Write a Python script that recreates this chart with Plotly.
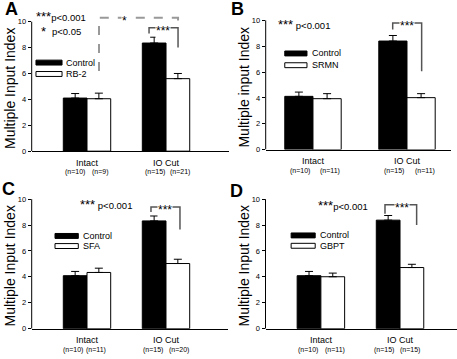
import plotly.graph_objects as go

# ---------------- data ----------------
categories = ["Intact", "IO Cut"]
treatments = ["RB-2", "SRMN", "SFA", "GBPT"]
panel_letters = ["A", "B", "C", "D"]

control_A = [4.10, 8.35]
control_A_err = [0.35, 0.45]
rb2 = [4.05, 5.60]
rb2_err = [0.43, 0.40]

control_B = [4.12, 8.40]
control_B_err = [0.33, 0.43]
srmn = [3.94, 4.02]
srmn_err = [0.39, 0.31]

control_C = [4.09, 8.32]
control_C_err = [0.33, 0.38]
sfa = [4.34, 5.03]
sfa_err = [0.33, 0.33]

control_D = [4.09, 8.38]
control_D_err = [0.33, 0.36]
gbpt = [4.01, 4.72]
gbpt_err = [0.28, 0.25]

n_A = ["(n=10)", "(n=9)", "(n=15)", "(n=21)"]
n_B = ["(n=10)", "(n=11)", "(n=15)", "(n=11)"]
n_C = ["(n=10)", "(n=11)", "(n=15)", "(n=20)"]
n_D = ["(n=10)", "(n=11)", "(n=15)", "(n=15)"]

ytitles = ["Multiple Input Index", "Multiple input Index", "Multiple Input Index", "Multiple Input Index"]
ytick_vals = [0, 2, 4, 6, 8, 10]

FONT = "Arial, Liberation Sans, sans-serif"
W, H = 457, 359
STARS = '<span style="font-size:13px">***</span>'

# ---------------- layout helpers ----------------
def px_x(p):
    return p / W

def px_y(p):
    return 1 - p / H

panels = [
    dict(ctrl=control_A, ce=control_A_err, trt=rb2, te=rb2_err, n=n_A, label="RB-2",
         xd=[px_x(31.7), px_x(229)], yd=[px_y(153.3), px_y(14.1)], xr=[-0.70, 1.797],
         letter_pos=(11, 9), ytitle_x=10,
         leg=(-0.646, -0.316, 6.84, 5.96), pv=[(-0.67, 10.37, STARS + "p<0.001")],
         pv2=True,
         brackets=[dict(pts=[(0.152, 6.19), (0.152, 10.3), (1.152, 10.3), (1.152, 9.77)], dash=True, star="*", sx=0.47),
                   dict(pts=[(0.785, 9.08), (0.785, 9.54), (1.152, 9.54), (1.152, 8.0)], dash=False, star="***", sx=0.96)],
         npos=[-0.15, 0.165, 0.86, 1.18]),
    dict(ctrl=control_B, ce=control_B_err, trt=srmn, te=srmn_err, n=n_B, label="SRMN",
         xd=[px_x(265.7), px_x(450.7)], yd=[px_y(151.7), px_y(12.8)], xr=[-0.503, 1.465],
         letter_pos=(237, 9), ytitle_x=244,
         leg=(-0.30, -0.064, 7.44, 6.53), pv=[(-0.39, 9.67, STARS + " p<0.001")],
         pv2=False,
         brackets=[dict(pts=[(0.848, 9.29), (0.848, 9.8), (1.156, 9.8), (1.156, 6.06)], dash=False, star="***", sx=0.997)],
         npos=[-0.14, 0.18, 0.86, 1.19]),
    dict(ctrl=control_C, ce=control_C_err, trt=sfa, te=sfa_err, n=n_C, label="SFA",
         xd=[px_x(31.7), px_x(228)], yd=[px_y(333.3), px_y(194.1)], xr=[-0.70, 1.785],
         letter_pos=(8, 192), ytitle_x=10,
         leg=(-0.405, -0.11, 7.16, 6.38), pv=[(-0.11, 9.6, STARS + " p<0.001")],
         pv2=False,
         brackets=[dict(pts=[(0.81, 9.01), (0.81, 9.39), (1.177, 9.39), (1.177, 7.66)], dash=False, star="***", sx=0.987)],
         npos=[-0.18, 0.12, 0.84, 1.16]),
    dict(ctrl=control_D, ce=control_D_err, trt=gbpt, te=gbpt_err, n=n_D, label="GBPT",
         xd=[px_x(265.5), 1.0], yd=[px_y(333.3), px_y(194.1)], xr=[-0.70, 1.72],
         letter_pos=(236, 194), ytitle_x=244,
         leg=(-0.376, -0.072, 7.2, 6.4), pv=[(-0.06, 9.54, STARS + "p<0.001")],
         pv2=False,
         brackets=[dict(pts=[(0.81, 8.88), (0.81, 9.57), (1.21, 9.57), (1.21, 8.0)], dash=False, star="***", sx=1.02)],
         npos=[-0.16, 0.18, 0.80, 1.13]),
]

fig = go.Figure()
shapes = []
annotations = []
BW = 0.30
xpos = [0, 1]

for i, p in enumerate(panels):
    k = "" if i == 0 else str(i + 1)
    xa, ya = "x" + k, "y" + k
    fig.add_trace(go.Bar(
        x=xpos, y=p["ctrl"], width=BW, offset=-BW, xaxis=xa, yaxis=ya,
        marker=dict(color="black", line=dict(color="black", width=1)),
        error_y=dict(type="data", array=p["ce"], arrayminus=[0, 0], symmetric=False,
                     color="black", thickness=1, width=4),
        showlegend=False, name="Control"))
    fig.add_trace(go.Bar(
        x=xpos, y=p["trt"], width=BW, offset=0, xaxis=xa, yaxis=ya,
        marker=dict(color="white", line=dict(color="black", width=1)),
        error_y=dict(type="data", array=p["te"], arrayminus=[0, 0], symmetric=False,
                     color="black", thickness=1, width=4),
        showlegend=False, name=p["label"]))

    fig.layout["xaxis" + k] = dict(
        domain=p["xd"], range=p["xr"], anchor=ya, tickvals=xpos, ticktext=categories,
        showline=True, linecolor="black", linewidth=1, ticks="", showgrid=False,
        ticklabelstandoff=3,
        zeroline=False, tickfont=dict(size=9, family=FONT, color="black"), fixedrange=True)
    fig.layout["yaxis" + k] = dict(
        domain=p["yd"], range=[0, 10.6], anchor=xa, tickvals=ytick_vals,
        showline=False, ticks="outside", ticklen=3, tickwidth=1, tickcolor="black",
        showgrid=False, zeroline=False, tickfont=dict(size=7.5, family=FONT, color="black"))

    # y axis line from 0 to 10
    shapes.append(dict(type="line", xref=xa + " domain", yref=ya, x0=0, x1=0, y0=0, y1=10,
                       line=dict(color="black", width=1)))

    # legend swatches
    lx0, lx1, ly1, ly2 = p["leg"]
    hh = 0.19
    shapes.append(dict(type="rect", xref=xa, yref=ya, x0=lx0, x1=lx1, y0=ly1 - hh, y1=ly1 + hh,
                       fillcolor="black", line=dict(color="black", width=1)))
    shapes.append(dict(type="rect", xref=xa, yref=ya, x0=lx0, x1=lx1, y0=ly2 - hh, y1=ly2 + hh,
                       fillcolor="white", line=dict(color="black", width=1)))
    annotations.append(dict(xref=xa, yref=ya, x=lx1 + 0.03, y=ly1, text="Control", showarrow=False,
                            xanchor="left", yanchor="middle", font=dict(size=9, family=FONT, color="black")))
    annotations.append(dict(xref=xa, yref=ya, x=lx1 + 0.03, y=ly2, text=p["label"], showarrow=False,
                            xanchor="left", yanchor="middle", font=dict(size=9, family=FONT, color="black")))

    # p-value text
    for (tx, ty, tt) in p["pv"]:
        annotations.append(dict(xref=xa, yref=ya, x=tx, y=ty, text=tt, showarrow=False,
                                xanchor="left", yanchor="middle", font=dict(size=9.5, family=FONT, color="black")))
    if p["pv2"]:
        annotations.append(dict(xref=xa, yref=ya, x=-0.555, y=9.25, text="*", showarrow=False,
                                xanchor="center", yanchor="middle", font=dict(size=13, family=FONT, color="black")))
        annotations.append(dict(xref=xa, yref=ya, x=-0.47, y=9.25, text="p<0.05", showarrow=False,
                                xanchor="left", yanchor="middle", font=dict(size=9.5, family=FONT, color="black")))

    # brackets
    for b in p["brackets"]:
        path = "M " + " L ".join(f"{x},{y}" for x, y in b["pts"])
        shapes.append(dict(type="path", xref=xa, yref=ya, path=path,
                           line=dict(color="#999999" if b["dash"] else "#555555",
                                     width=2 if b["dash"] else 1.5,
                                     dash="dash" if b["dash"] else "solid")))
        annotations.append(dict(xref=xa, yref=ya, x=b["sx"], y=b["pts"][1][1], text=b["star"],
                                showarrow=False, bgcolor="white", borderpad=0, yshift=-3,
                                font=dict(size=12, family=FONT, color="black")))

    # n labels
    for nx, nt in zip(p["npos"], p["n"]):
        annotations.append(dict(xref=xa, yref=ya + " domain", x=nx, y=-0.155, text=nt, showarrow=False,
                                xanchor="center", yanchor="middle", font=dict(size=7, family=FONT, color="black")))

    # y title
    annotations.append(dict(xref="paper", yref=ya, x=px_x(p["ytitle_x"]), y=4.8, text=ytitles[i],
                            textangle=-90, showarrow=False, xanchor="center", yanchor="middle",
                            font=dict(size=14, family=FONT, color="black")))

    # panel letter
    lxp, lyp = p["letter_pos"]
    annotations.append(dict(xref="paper", yref="paper", x=px_x(lxp), y=px_y(lyp), text="<b>" + panel_letters[i] + "</b>",
                            showarrow=False, xanchor="center", yanchor="middle",
                            font=dict(size=18, family=FONT, color="black")))

fig.update_layout(
    width=W, height=H, margin=dict(l=0, r=0, t=0, b=0),
    paper_bgcolor="white", plot_bgcolor="white",
    shapes=shapes, annotations=annotations, showlegend=False,
    font=dict(family=FONT, color="black"),
)

fig.write_html("out.html", include_plotlyjs=True, config={"displayModeBar": False},
               post_script="document.body.style.margin='0';document.body.style.padding='0';")
